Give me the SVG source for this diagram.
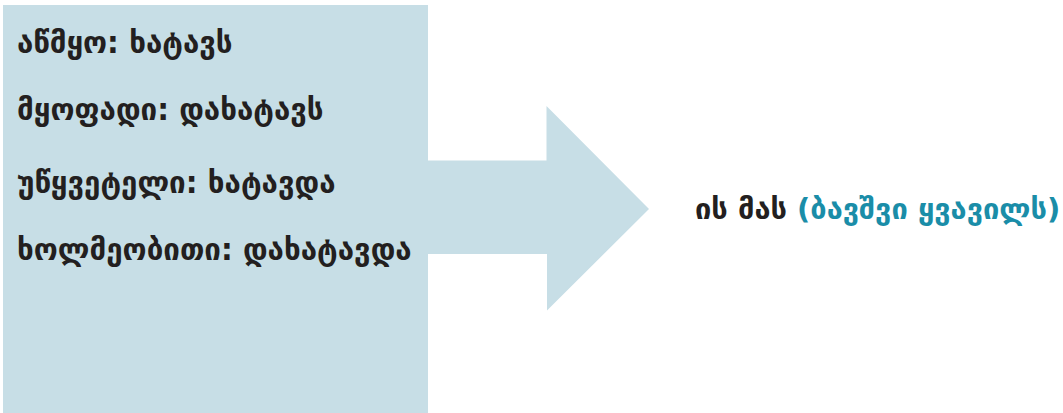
<svg xmlns="http://www.w3.org/2000/svg" width="1063" height="413" viewBox="0 0 1063 413">
<style>
.shape{fill:#c7dee6}
.t{font-family:"DejaVu Sans","Noto Sans",sans-serif;font-weight:bold;fill:#231f20}
.l{font-size:29.5px}
.r{font-size:29px}
.hl{fill:#1a8da8}
</style>
<rect width="1063" height="413" fill="#ffffff"/>
<g id="tenses">
<rect class="shape" x="3" y="5" width="425" height="408"/>
<text class="t l" x="17" y="53">აწმყო: ხატავს</text>
<text class="t l" x="17" y="119.5">მყოფადი: დახატავს</text>
<text class="t l" x="17" y="193">უწყვეტელი: ხატავდა</text>
<text class="t l" x="17" y="260">ხოლმეობითი: დახატავდა</text>
</g>
<g id="connectors">
<polygon id="arrow" class="shape" points="427,160.5 546.5,160.5 546.5,106 649,209 547,310.5 547,254 427,254"/>
</g>
<g id="result">
<text class="t r" x="695" y="218.5">ის მას <tspan class="hl">(ბავშვი ყვავილს)</tspan></text>
</g>
</svg>
